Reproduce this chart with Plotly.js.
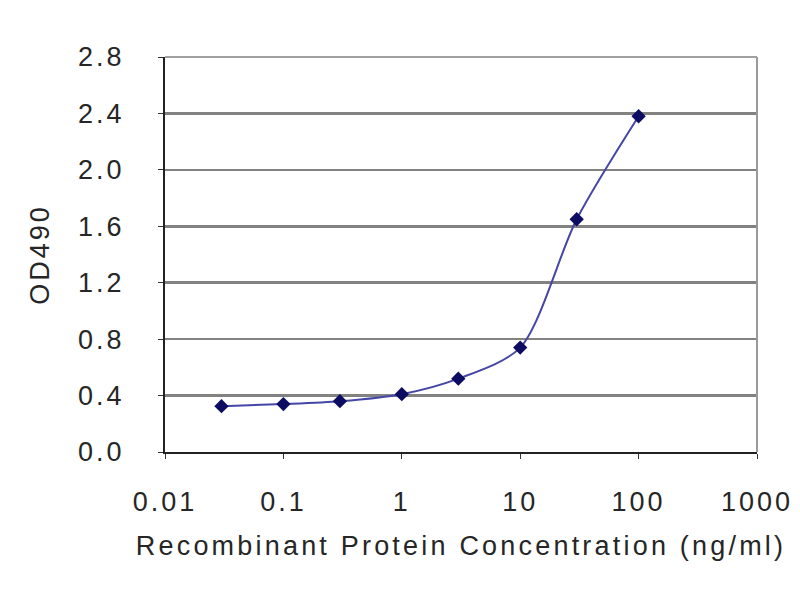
<!DOCTYPE html>
<html>
<head>
<meta charset="utf-8">
<script src="https://cdn.plot.ly/plotly-3.0.1.min.js"></script>
<style>
html,body{margin:0;padding:0;background:#fff;}
#chart{width:800px;height:600px;}
#chart text{letter-spacing:3px;}
#chart text.xtitle{letter-spacing:3.2px;}
</style>
</head>
<body>
<div id="chart"></div>
<script>
const concentration = [0.03, 0.1, 0.3, 1, 3, 10, 30, 100];
const od490 = [0.325, 0.34, 0.36, 0.41, 0.52, 0.74, 1.65, 2.38];
const xTickVals = [0.01, 0.1, 1, 10, 100, 1000];
const xTickText = ['0.01', '0.1', '1', '10', '100', '1000'];
const yTickVals = [0.0, 0.4, 0.8, 1.2, 1.6, 2.0, 2.4, 2.8];

const trace = {
  x: concentration,
  y: od490,
  type: 'scatter',
  mode: 'lines+markers',
  line: {color: '#4646a6', width: 2, shape: 'spline', smoothing: 0.8},
  marker: {symbol: 'diamond', size: 11, color: '#0c0c62'},
  showlegend: false,
  cliponaxis: false
};

const font = {family: 'Liberation Sans, Arial, sans-serif', size: 27, color: '#262626'};
const titleFont = {family: 'Liberation Sans, Arial, sans-serif', size: 27, color: '#262626'};

const layout = {
  width: 800, height: 600,
  margin: {l: 165, r: 43, t: 57, b: 148},
  paper_bgcolor: '#ffffff', plot_bgcolor: '#ffffff',
  font: font,
  xaxis: {
    type: 'log', range: [-2, 3],
    tickvals: xTickVals, ticktext: xTickText,
    ticks: 'outside', ticklen: 5, tickcolor: '#333',
    showline: true, linecolor: '#222', linewidth: 2,
    showgrid: false, zeroline: false,
    ticklabelstandoff: 20,
    tickfont: font,
    title: {text: 'Recombinant Protein Concentration (ng/ml)', font: titleFont, standoff: 20}
  },
  yaxis: {
    range: [0, 2.8],
    tickvals: yTickVals, tickformat: '.1f',
    ticks: 'outside', ticklen: 5, tickcolor: '#333',
    showline: true, linecolor: '#222', linewidth: 2,
    showgrid: true, gridcolor: '#828282', gridwidth: 2.5,
    zeroline: false,
    ticklabelstandoff: 28,
    tickfont: font,
    title: {text: 'OD490', font: font, standoff: 30}
  },
  shapes: [
    {type: 'line', xref: 'paper', yref: 'paper', x0: 1, x1: 1, y0: 0, y1: 1,
     line: {color: '#9a9a9a', width: 2}},
    {type: 'line', xref: 'paper', yref: 'paper', x0: 0, x1: 1, y0: 1, y1: 1,
     line: {color: '#a0a0a0', width: 2}}
  ]
};

Plotly.newPlot('chart', [trace], layout, {displayModeBar: false, staticPlot: true});
</script>
</body>
</html>
